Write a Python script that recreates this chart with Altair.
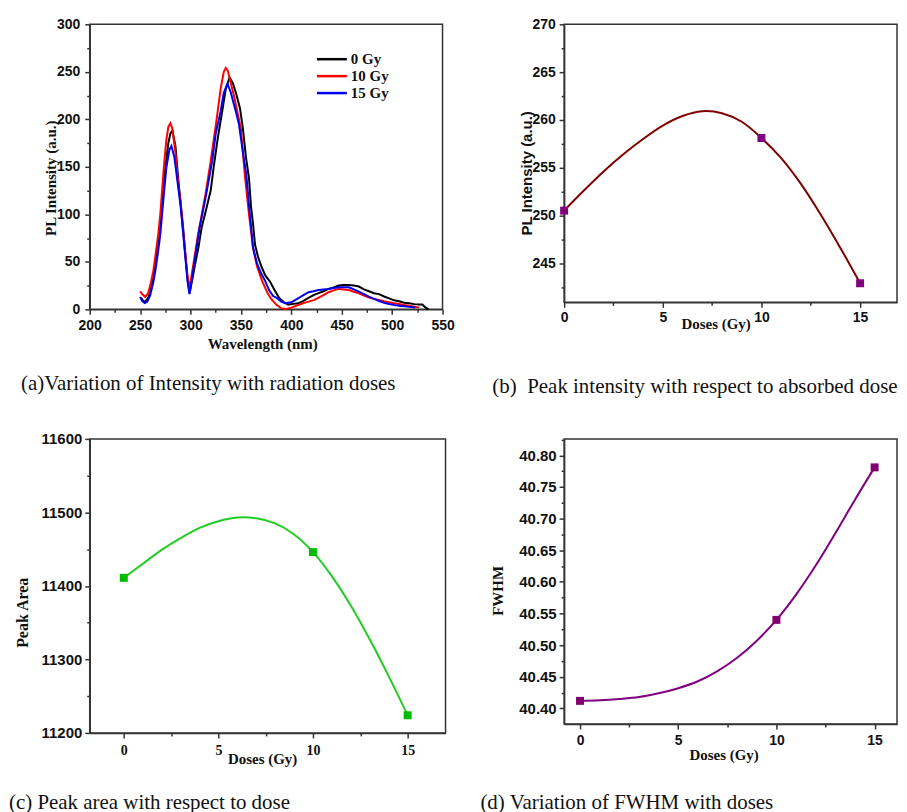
import altair as alt
import pandas as pd

# ---------------- data ----------------
series_labels = ["0 Gy", "10 Gy", "15 Gy"]
series_colors = ["#000000", "#ff0000", "#0000ee"]

wavelength_0gy = [251, 253, 255, 258, 260, 263, 265, 269, 272, 275, 278, 280, 282, 285, 288, 290,
                  292.5, 294.6, 297, 299, 302, 305, 308, 311, 315, 320, 323, 327, 331.5, 335, 338.7,
                  342, 345, 349, 352, 355, 358, 360, 362, 364, 367, 370, 374, 379, 383, 388, 392,
                  397, 400, 407, 412, 417, 422, 427, 432, 437, 442, 447, 452, 457, 462, 467, 472,
                  477, 482, 487, 492, 497, 502, 507, 512, 517, 522, 527, 530, 533, 536]
intensity_0gy = [12, 9, 8, 12, 18, 32, 45, 79, 115, 149, 175, 185, 188, 172, 135, 114,
                 88, 61, 32, 17, 33, 50, 66, 86, 103, 125, 150, 180, 209, 232, 244,
                 238, 228, 212, 190, 160, 138, 108, 90, 68, 55, 46, 36, 29, 21, 12, 8,
                 5, 5.5, 6.3, 9, 12, 15, 17, 19, 21.5, 23, 25, 25.7, 25.7, 25, 24, 21,
                 19, 17, 16, 13.5, 11.5, 9.5, 8.5, 7, 6.3, 5.5, 5, 5, 2, 0]

wavelength_10gy = [250, 252, 255, 258, 260, 263, 265, 268, 270, 273.5, 276, 278, 280, 282, 285, 288,
                   290, 292, 294.6, 297, 299, 302, 305, 307, 310, 315, 320, 325, 327, 330, 333, 335,
                   337, 340, 343, 345, 348, 350, 354, 358, 362, 366, 371, 376, 380, 385, 390, 395,
                   400, 407, 412, 417, 423, 430, 437, 442, 447, 452, 457, 462, 467, 472, 477, 482,
                   487, 492, 497, 502, 507, 512, 517, 522, 527]
intensity_10gy = [19, 16, 13, 17, 25, 40, 55, 79, 100, 149, 178, 192, 196, 190, 165, 130,
                  114, 90, 61, 35, 22, 42, 62, 76, 93, 122, 156, 193, 209, 233, 250, 254,
                  251, 238, 225, 215, 200, 190, 140, 100, 65, 45, 30, 18, 11, 5, 1, 0.5,
                  1.8, 4.6, 6.5, 8.1, 9.9, 14, 18, 20, 21.5, 21, 20.4, 18.5, 16.9, 14.5, 12.3, 11,
                  9.9, 8.5, 7.4, 6.5, 5.6, 4.5, 3.9, 2.8, 1.8]

wavelength_15gy = [250, 252, 254.5, 257, 260, 263, 265, 268, 270, 273, 276, 279, 281, 284, 287, 290,
                   292, 294.6, 297, 299, 302, 305, 309, 315, 321.5, 325, 330, 333, 336.7, 340, 345,
                   348, 352, 355.3, 358, 362, 366, 370, 374, 378, 382, 385.5, 390, 394, 400, 406.7,
                   412, 417, 422, 427, 432, 437, 442, 447, 452, 457, 462, 467, 472, 477, 482, 487,
                   492, 497, 502, 507, 512, 517, 523]
intensity_15gy = [13, 9, 6.7, 8, 15, 28, 40, 62, 79, 115, 149, 168, 172, 160, 135, 110,
                  88, 58, 30, 16, 36, 58, 86, 118, 156, 185, 209, 228, 237.5, 228, 208,
                  195, 165, 142, 110, 65, 48, 38, 30, 20, 14, 12, 8, 6.5, 7.4, 11.6,
                  15, 18, 19, 20.4, 21, 21.5, 22.5, 23.2, 23.2, 23.2, 21, 18.7, 16, 13.4, 11, 8.8,
                  7, 5.6, 4.5, 3.9, 3.2, 2.8, 1.8]

# measured points (squares)
doses = [0, 10, 15]
peak_intensity = [250.5, 258.1, 242.9]
peak_area = [11411, 11446, 11224]
fwhm = [40.412, 40.540, 40.781]

# smooth fitted curves as drawn in the reference, read at every 1 Gy
fit_doses = [0, 1, 2, 3, 4, 5, 6, 7, 8, 9, 10, 11, 12, 13, 14, 15]
fit_peak_intensity = [250.5, 252.6, 254.6, 256.4, 258.0, 259.4, 260.4, 260.9, 260.7, 259.8,
                      258.1, 256.0, 253.3, 250.1, 246.6, 242.9]
fit_peak_area = [11411, 11430, 11449, 11465, 11479, 11488, 11493, 11492, 11485, 11470,
                 11446, 11413, 11373, 11327, 11277, 11224]
fit_fwhm = [40.412, 40.413, 40.415, 40.418, 40.424, 40.432, 40.443, 40.459, 40.480, 40.507,
            40.540, 40.580, 40.626, 40.677, 40.730, 40.781]

captions = [
    "(a)Variation of Intensity with radiation doses",
    "(b)\u00a0 Peak intensity with respect to absorbed dose",
    "(c) Peak area with respect to dose",
    "(d) Variation of FWHM with doses",
]

SANS = "Liberation Sans"
SERIF = "Liberation Serif"
INK = "#111111"


def tick_size(minor_test):
    return {"condition": {"test": minor_test, "value": 3}, "value": 5}


def make_axis(values, minor_test, title, title_font, title_size, title_x, title_y,
              label_font, label_size, label_padding, vertical, fmt=None):
    label_expr = f"({minor_test}) ? '' : datum.label"
    kw = dict(
        values=values, labelExpr=label_expr, tickSize=tick_size(minor_test),
        title=title, titleFont=title_font, titleFontSize=title_size, titleFontWeight="bold",
        titleX=title_x, titleY=title_y, titleAlign="center", titleBaseline="middle",
        labelFont=label_font, labelFontSize=label_size, labelFontWeight="bold",
        labelPadding=label_padding, grid=False, labelFlush=False, labelOverlap=False,
    )
    if vertical:
        kw["titleAngle"] = 270
    if fmt:
        kw["format"] = fmt
    return alt.Axis(**kw)


def caption(text, dx, offset):
    return alt.TitleParams(text=text, orient="bottom", anchor="start", frame="group",
                           dx=dx, offset=offset, font=SERIF, fontSize=21,
                           fontWeight="normal", color=INK)


# ---------------- panel (a) ----------------
rows = []
for lab, wl, pl in zip(series_labels,
                       [wavelength_0gy, wavelength_10gy, wavelength_15gy],
                       [intensity_0gy, intensity_10gy, intensity_15gy]):
    for w, p in zip(wl, pl):
        rows.append({"wl": w, "pl": p, "dose": lab})
spec_df = pd.DataFrame(rows)

panel_a = alt.Chart(spec_df).mark_line(strokeWidth=2).encode(
    x=alt.X("wl:Q", scale=alt.Scale(domain=[200, 550], nice=False, zero=False),
            axis=make_axis(list(range(200, 551, 25)), "datum.value % 50 !== 0",
                           "Wavelength (nm)", SERIF, 15, 173, 34, SANS, 14, 4, False)),
    y=alt.Y("pl:Q", scale=alt.Scale(domain=[0, 300], nice=False),
            axis=make_axis(list(range(0, 301, 25)), "datum.value % 50 !== 0",
                           "PL Intensity (a.u.)", SERIF, 15, -39, 154, SANS, 14, 5, True)),
    color=alt.Color("dose:N", sort=series_labels,
                    scale=alt.Scale(domain=series_labels, range=series_colors),
                    legend=alt.Legend(orient="none", legendX=234, legendY=26, title=None,
                                      symbolType="M-2,0H2", symbolSize=225, symbolStrokeWidth=2.5,
                                      labelFont=SERIF, labelFontSize=15, labelFontWeight="bold",
                                      labelColor=INK, labelOffset=10, rowPadding=0, padding=0)),
).properties(width=354, height=286, title=caption(captions[0], -69, 22))


# ---------------- panels (b), (c), (d) ----------------
def dose_panel(vals, fit_vals, ydomain, yaxis, xdomain, xaxis, line_color, point_color,
               width, height, cap):
    pts_df = pd.DataFrame({"dose": doses, "val": vals})
    fit_df = pd.DataFrame({"dose": fit_doses, "val": fit_vals})
    x = alt.X("dose:Q", scale=alt.Scale(domain=xdomain, nice=False, zero=False), axis=xaxis)
    y = alt.Y("val:Q", scale=alt.Scale(domain=ydomain, nice=False, zero=False), axis=yaxis)
    line = alt.Chart(fit_df).mark_line(interpolate="catmull-rom", color=line_color,
                                       strokeWidth=2).encode(x=x, y=y)
    pts = alt.Chart(pts_df).mark_point(shape="square", filled=True, size=64, color=point_color,
                                       opacity=1).encode(x=x, y=y)
    return alt.layer(line, pts).properties(width=width, height=height, title=cap)


dose_ticks = [0, 2.5, 5, 7.5, 10, 12.5, 15]

panel_b = dose_panel(
    peak_intensity, fit_peak_intensity, [240.9, 270],
    make_axis([242.5 + 2.5 * i for i in range(12)], "datum.value % 5 !== 0",
              "PL Intensity (a.u.)", SANS, 15, -38, 149, SANS, 14, 4, True),
    [0, 16.87],
    make_axis(dose_ticks, "datum.value % 5 !== 0", "Doses (Gy)", SERIF, 15, 152, 21, SANS, 14, 3, False),
    "#800000", "#800080", 334, 279, caption(captions[1], -72, 45))

panel_c = dose_panel(
    peak_area, fit_peak_area, [11200, 11600],
    make_axis(list(range(11200, 11601, 50)), "datum.value % 100 !== 0",
              "Peak Area", SERIF, 16, -67, 174, SANS, 15, 3, True, fmt="d"),
    [-1.8, 17],
    make_axis(dose_ticks, "datum.value % 5 !== 0", "Doses (Gy)", SERIF, 15, 173, 26, SERIF, 14, 6, False),
    "#22cc22", "#00bb00", 357, 295, caption(captions[2], -81, 25))

panel_d = dose_panel(
    fwhm, fit_fwhm, [40.3755, 40.826],
    make_axis([round(40.40 + 0.025 * i, 3) for i in range(18)], "round(datum.value * 40) % 2 !== 0",
              "FWHM", SERIF, 15, -67, 152, SANS, 15, 3, True, fmt=".2f"),
    [-0.81, 16.14],
    make_axis(dose_ticks, "datum.value % 5 !== 0", "Doses (Gy)", SERIF, 15, 160, 31, SANS, 14, 5, False),
    "#800080", "#800070", 334, 286, caption(captions[3], -84, 29))

chart = alt.concat(
    panel_a, panel_b, panel_c, panel_d,
    columns=2, spacing={"row": 130, "column": 119}, bounds="flush",
).properties(
    padding={"left": 0, "top": 7, "right": 0, "bottom": 0}, background="white",
).configure_view(
    stroke="#333333", strokeWidth=1.5,
).configure_axis(
    domainColor="#333333", domainWidth=1.5, tickColor="#333333", tickWidth=1.5,
    labelColor=INK, titleColor=INK,
)

chart.save("out.html", embed_options={"renderer": "svg", "actions": False})
